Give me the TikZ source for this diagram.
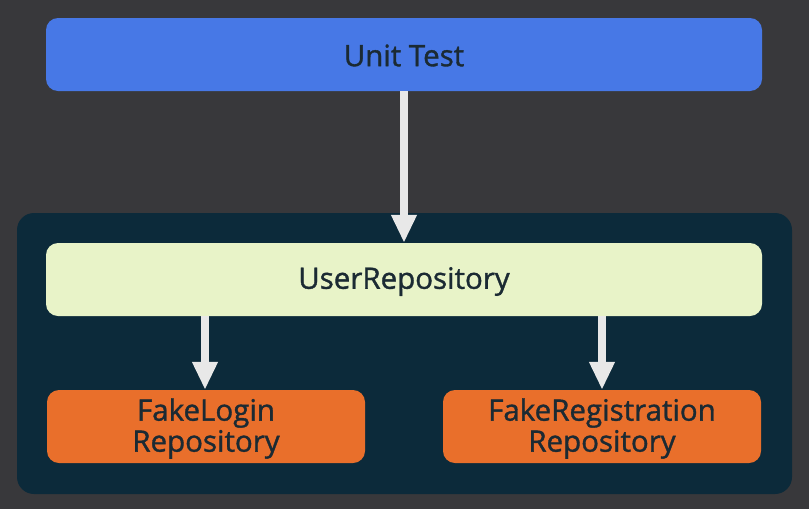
\documentclass[tikz,border=0pt]{standalone}
\usepackage{fontspec}
\setmainfont{Open Sans}[RawFeature={embolden=1.2}]
\usetikzlibrary{arrows.meta}
\definecolor{bgc}{HTML}{38383B}
\definecolor{cont}{HTML}{0C2A3A}
\definecolor{blueb}{HTML}{4778E6}
\definecolor{lightb}{HTML}{E8F3C8}
\definecolor{orangeb}{HTML}{E96F2B}
\definecolor{arr}{HTML}{E8E8E8}
\definecolor{txt}{HTML}{1B2A33}
\tikzset{
  box/.style={rounded corners=12pt, inner sep=0pt},
  lbl/.style={text=txt, align=center, font=\fontsize{29.5}{31}\selectfont},
  conn/.style={draw=arr, line width=8.5pt, -{Triangle[width=24pt,length=28pt]}, shorten >=0pt}
}
\begin{document}
\begin{tikzpicture}[x=1pt,y=-1pt]
\fill[bgc] (0,0) rectangle (809,509);
\useasboundingbox (0,0) rectangle (809,509);
\fill[cont, rounded corners=17pt] (17,213) rectangle (792,494);
\node[box, fill=blueb, minimum width=716pt, minimum height=73pt] (ut) at (404,54.5) {};
\node[box, fill=lightb, minimum width=716pt, minimum height=73pt] (ur) at (404,279.5) {};
\node[box, fill=orangeb, minimum width=318pt, minimum height=73pt] (fl) at (206,426.5) {};
\node[box, fill=orangeb, minimum width=318pt, minimum height=73pt] (fr) at (602,426.5) {};
\node[lbl] (utl) at ([yshift=-1pt]ut.center) {Unit Test};
\node[lbl] (url) at ([yshift=-2pt]ur.center) {UserRepository};
\node[lbl] (fll) at ([yshift=-2pt]fl.center) {FakeLogin\\Repository};
\node[lbl] (frl) at ([yshift=-2pt]fr.center) {FakeRegistration\\Repository};
\draw[conn] (ut.south) -- (ur.north);
\draw[conn] (ur.south -| 205,0) -- (fl.north -| 205,0);
\draw[conn] (ur.south -| 602,0) -- (fr.north -| 602,0);
\end{tikzpicture}
\end{document}
